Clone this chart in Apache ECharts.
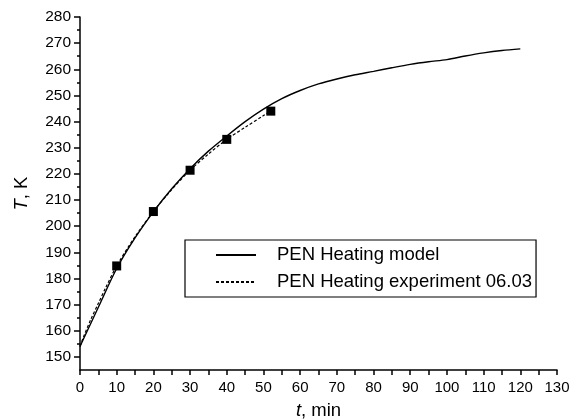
<!DOCTYPE html>
<html>
<head>
<meta charset="utf-8">
<script src="https://cdn.jsdelivr.net/npm/echarts@6/dist/echarts.min.js"></script>
<style>
  html, body { margin: 0; padding: 0; background: #fff; }
  #chart { width: 583px; height: 420px; }
</style>
</head>
<body>
<div id="chart"></div>
<script>
// Model curve: time (min) and temperature (K)
const modelTime = [0, 2, 5, 10, 15, 20, 25, 30, 35, 40, 45, 50, 55, 60, 65, 70, 75, 80, 85, 90, 95, 100, 105, 110, 115, 120];
const modelTemp = [154, 160, 169, 183.8, 195.5, 205.5, 214.3, 222, 228.7, 234.5, 240, 244.8, 248.8, 251.9, 254.4, 256.3, 257.9, 259.2, 260.6, 261.9, 262.9, 263.7, 265.1, 266.3, 267.2, 267.8];

// Experiment 06.03 trace
const expTime = [0, 1, 3, 5, 7, 10, 15, 20, 25, 30, 35, 40, 45, 50, 52];
const expTemp = [154, 157.8, 164.5, 170.5, 176.5, 184.8, 196, 205.6, 214, 221.4, 227.6, 233.2, 237.8, 242.3, 244];

// Measured points marked with squares
const markTime = [10, 20, 30, 40, 52];
const markTemp = [184.8, 205.6, 221.4, 233.2, 244];

const yMajor = [150, 160, 170, 180, 190, 200, 210, 220, 230, 240, 250, 260, 270, 280];
const yMinor = [155, 165, 175, 185, 195, 205, 215, 225, 235, 245, 255, 265, 275];

const FONT = 'Liberation Sans, Arial, sans-serif';
const zip = (a, b) => a.map((v, i) => [v, b[i]]);

const chart = echarts.init(document.getElementById('chart'), null, { renderer: 'canvas' });

chart.setOption({
  animation: false,
  backgroundColor: '#fff',
  grid: { left: 80, right: 26, top: 17, bottom: 50, containLabel: false, outerBoundsMode: 'none' },
  xAxis: {
    type: 'value', min: 0, max: 130, interval: 10,
    name: '{i|t}, min', nameLocation: 'middle', nameGap: 31,
    nameTextStyle: { fontFamily: FONT, fontSize: 18.5, color: '#000',
      rich: { i: { fontStyle: 'italic', fontFamily: FONT, fontSize: 18.5, color: '#000' } } },
    axisLine: { show: true, onZero: false, lineStyle: { color: '#000', width: 1.5 } },
    axisTick: { show: true, inside: false, length: 5, lineStyle: { color: '#000', width: 1.5 } },
    minorTick: { show: true, splitNumber: 2, length: 5, lineStyle: { color: '#000', width: 1.5 } },
    axisLabel: { fontFamily: FONT, fontSize: 15, color: '#000', margin: 10 },
    splitLine: { show: false }
  },
  yAxis: [
    {
      type: 'value', min: 145, max: 280,
      name: '{i|T}, K', nameLocation: 'middle', nameGap: 49, nameRotate: 90,
      nameTextStyle: { fontFamily: FONT, fontSize: 18.5, color: '#000',
        rich: { i: { fontStyle: 'italic', fontFamily: FONT, fontSize: 18.5, color: '#000' } } },
      axisLine: { show: true, onZero: false, lineStyle: { color: '#000', width: 1.5 } },
      axisTick: { show: true, customValues: yMajor, length: 6, lineStyle: { color: '#000', width: 1.5 } },
      axisLabel: { customValues: yMajor, fontFamily: FONT, fontSize: 15.5, color: '#000', margin: 9 },
      splitLine: { show: false }
    },
    {
      type: 'value', min: 145, max: 280, position: 'left',
      axisLine: { show: false },
      axisTick: { show: true, customValues: yMinor, length: 3, lineStyle: { color: '#000', width: 1.5 } },
      axisLabel: { show: false, customValues: yMinor },
      splitLine: { show: false }
    }
  ],
  legend: {
    left: 185, top: 240, orient: 'vertical',
    padding: [5, 4, 5, 30],
    borderColor: '#000', borderWidth: 1.2, borderRadius: 0,
    itemWidth: 40, itemHeight: 14, itemGap: 7,
    itemStyle: { opacity: 0 },
    textStyle: { fontFamily: FONT, fontSize: 18.5, lineHeight: 20, height: 20, color: '#000', padding: [0, 0, 0, 16] },
    data: ['PEN Heating model', 'PEN Heating experiment 06.03']
  },
  series: [
    {
      name: 'PEN Heating model', type: 'line', smooth: 0.3,
      data: zip(modelTime, modelTemp), symbol: 'none',
      lineStyle: { color: '#000', width: 1.4 }, itemStyle: { color: '#000' }
    },
    {
      name: 'PEN Heating experiment 06.03', type: 'line', smooth: 0.3,
      data: zip(expTime, expTemp), symbol: 'none',
      lineStyle: { color: '#000', width: 1.2, type: [3, 2] }, itemStyle: { color: '#000' }
    },
    {
      name: 'points', type: 'scatter', symbol: 'rect', symbolSize: 9,
      data: zip(markTime, markTemp), itemStyle: { color: '#000', opacity: 1 }
    }
  ]
});
</script>
</body>
</html>
